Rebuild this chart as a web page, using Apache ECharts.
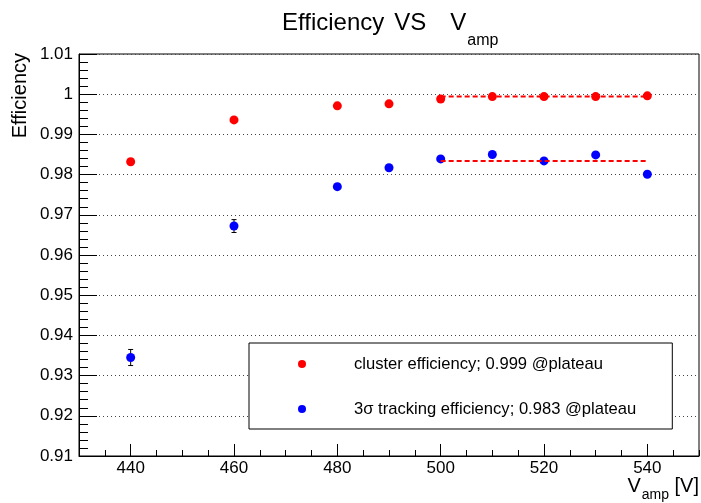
<!DOCTYPE html>
<html>
<head>
<meta charset="utf-8">
<script src="https://cdn.jsdelivr.net/npm/echarts@6/dist/echarts.min.js"></script>
<style>
  html, body { margin: 0; padding: 0; background: #fff; }
  #chart { width: 701px; height: 503px; }
</style>
</head>
<body>
<div id="chart"></div>
<script>
// Amplification voltage scan: efficiency per HV point
const voltages = [440, 460, 480, 490, 500, 510, 520, 530, 540];
const clusterEff = [0.9832, 0.9936, 0.9971, 0.9976, 0.9988, 0.9994, 0.9994, 0.9994, 0.9996];
const trackingEff = [0.9345, 0.9672, 0.9770, 0.9817, 0.9839, 0.9850, 0.9834, 0.9849, 0.9801];
const trackingErr = [0.0020, 0.0016, 0.0006, 0.0006, 0.0005, 0.0005, 0.0005, 0.0005, 0.0006];

// Plateau fits (constant over the last points)
const plateauRange = [500, 540];
const clusterPlateau = 0.9994;
const trackingPlateau = 0.9834;

// Axes
const xRange = [430, 550];
const xMajorTicks = [440, 460, 480, 500, 520, 540];
const yRange = [0.91, 1.01];
const yStep = 0.01;

const legendNames = ['cluster efficiency; 0.999 @plateau', '3σ tracking efficiency; 0.983 @plateau'];

const FONT = 'Liberation Sans, Arial, Helvetica, sans-serif';
const RED = '#ff0000';
const BLUE = '#0000ff';

const chart = echarts.init(document.getElementById('chart'), null, { renderer: 'canvas' });

const pts = (xs, ys) => xs.map((x, i) => [x, ys[i]]);
const errPts = voltages.map((x, i) => [x, trackingEff[i], trackingErr[i]]);

const titleToken = { fontFamily: FONT, fontSize: 24, fontWeight: 'normal', color: '#000', verticalAlign: 'top' };

const option = {
  animation: false,
  backgroundColor: '#fff',
  textStyle: { fontFamily: FONT, color: '#000' },
  title: {
    left: 282,
    top: 11,
    padding: 0,
    text: '{t|Efficiency}{w|VS}{v|V}{s|amp}',
    textStyle: {
      fontWeight: 'normal',
      rich: {
        t: titleToken,
        w: Object.assign({}, titleToken, { padding: [0, 0, 0, 10] }),
        v: Object.assign({}, titleToken, { padding: [0, 0, 0, 24] }),
        s: { fontFamily: FONT, fontSize: 16, fontWeight: 'normal', color: '#000', verticalAlign: 'top', padding: [22, 0, 0, 1] }
      }
    }
  },
  grid: {
    left: 79, top: 54, width: 620, height: 402,
    show: true, borderColor: '#000', borderWidth: 1, backgroundColor: 'transparent'
  },
  legend: {
    orient: 'vertical',
    left: 249,
    top: 343,
    padding: [12, 36, 11, 49],
    itemGap: 27,
    itemWidth: 8,
    itemHeight: 8,
    borderColor: '#000',
    borderWidth: 1,
    backgroundColor: '#fff',
    data: [
      { name: legendNames[0], icon: 'circle' },
      { name: legendNames[1], icon: 'circle' }
    ],
    formatter: name => '{pad| }' + name,
    textStyle: {
      fontFamily: FONT, fontSize: 16.6, color: '#000', lineHeight: 18,
      rich: { pad: { width: 43 } }
    }
  },
  xAxis: [
    {
      type: 'value', min: xRange[0], max: xRange[1], interval: 5,
      axisLine: { show: true, onZero: false, lineStyle: { color: '#000', width: 1 } },
      axisTick: { show: true, inside: true, length: 6, lineStyle: { color: '#000' } },
      axisLabel: { show: false },
      splitLine: { show: false }
    },
    {
      type: 'value', min: xRange[0], max: xRange[1], position: 'bottom',
      axisLine: { show: false },
      axisTick: { show: true, inside: true, length: 12, customValues: xMajorTicks, lineStyle: { color: '#000' } },
      axisLabel: { show: true, customValues: xMajorTicks, margin: 4, fontSize: 17, fontFamily: FONT, color: '#000' },
      splitLine: { show: false }
    }
  ],
  yAxis: {
    type: 'value', min: yRange[0], max: yRange[1], interval: yStep,
    axisLine: { show: true, onZero: false, lineStyle: { color: '#000', width: 1 } },
    axisTick: { show: true, inside: true, length: 18, lineStyle: { color: '#000' } },
    minorTick: { show: true, splitNumber: 5, length: 9, lineStyle: { color: '#000' } },
    axisLabel: {
      margin: 6, fontSize: 17, fontFamily: FONT, color: '#000',
      formatter: v => String(+v.toFixed(2))
    },
    splitLine: { show: true, lineStyle: { color: '#444', width: 1, type: [1, 3] } }
  },
  graphic: [
    {
      type: 'text', x: 10, y: 53, rotation: Math.PI / 2,
      style: { text: 'Efficiency', font: '20px ' + FONT, fill: '#000', align: 'right', verticalAlign: 'top' }
    },
    {
      type: 'text', x: 699, y: 476,
      style: {
        text: '{v|V}{s|amp}{v| [V]}', align: 'right', verticalAlign: 'top',
        rich: {
          v: { fontFamily: FONT, fontSize: 20, fill: '#000', verticalAlign: 'top' },
          s: { fontFamily: FONT, fontSize: 14, fill: '#000', verticalAlign: 'top', padding: [12, 0, 0, 1] }
        }
      }
    }
  ],
  series: [
    {
      name: 'tracking errors',
      type: 'custom',
      xAxisIndex: 0,
      z: 2,
      silent: true,
      data: errPts,
      renderItem: (params, api) => {
        const x = api.value(0), y = api.value(1), e = api.value(2);
        const hi = api.coord([x, y + e]);
        const lo = api.coord([x, y - e]);
        const cap = 2.5;
        const st = { stroke: '#000', lineWidth: 1 };
        return {
          type: 'group',
          children: [
            { type: 'line', shape: { x1: hi[0], y1: hi[1], x2: lo[0], y2: lo[1] }, style: st },
            { type: 'line', shape: { x1: hi[0] - cap, y1: hi[1], x2: hi[0] + cap, y2: hi[1] }, style: st },
            { type: 'line', shape: { x1: lo[0] - cap, y1: lo[1], x2: lo[0] + cap, y2: lo[1] }, style: st }
          ]
        };
      }
    },
    {
      name: legendNames[1],
      type: 'scatter',
      xAxisIndex: 0,
      z: 3,
      symbol: 'circle',
      symbolSize: 9,
      itemStyle: { color: BLUE, opacity: 1 },
      data: pts(voltages, trackingEff)
    },
    {
      name: 'tracking plateau',
      type: 'line',
      xAxisIndex: 0,
      z: 4,
      symbol: 'none',
      lineStyle: { color: RED, width: 2, type: [5, 3] },
      data: [[plateauRange[0], trackingPlateau], [plateauRange[1], trackingPlateau]]
    },
    {
      name: 'cluster plateau',
      type: 'line',
      xAxisIndex: 0,
      z: 4,
      symbol: 'none',
      lineStyle: { color: RED, width: 2, type: [5, 3] },
      data: [[plateauRange[0], clusterPlateau], [plateauRange[1], clusterPlateau]]
    },
    {
      name: legendNames[0],
      type: 'scatter',
      xAxisIndex: 0,
      z: 5,
      symbol: 'circle',
      symbolSize: 9,
      itemStyle: { color: RED, opacity: 1 },
      data: pts(voltages, clusterEff)
    }
  ]
};

chart.setOption(option);
</script>
</body>
</html>
